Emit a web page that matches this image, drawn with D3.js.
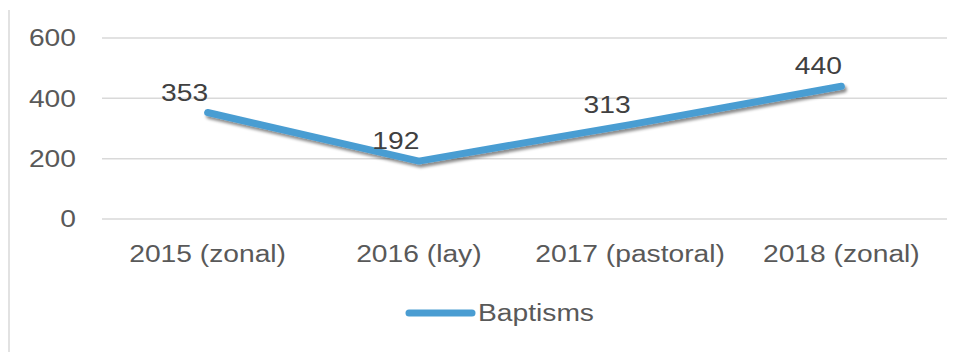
<!DOCTYPE html>
<html>
<head>
<meta charset="utf-8">
<script src="https://cdn.jsdelivr.net/npm/d3@7"></script>
<style>
  body { margin: 0; background: #fff; }
  svg { display: block; }
  text { font-family: "Liberation Sans", Arial, sans-serif; }
</style>
</head>
<body>
<script>
// chart data
var categories = ["2015 (zonal)", "2016 (lay)", "2017 (pastoral)", "2018 (zonal)"];
var baptisms = [353, 192, 313, 440];
var yTicks = [0, 200, 400, 600];
var seriesName = "Baptisms";

var w = 956, h = 352;
var margin = {left: 102, right: 9, top: 38, bottom: 133};
var stretch = 1.2; // the source picture is wider than its type
var fs = 23.5;

var svg = d3.select("body").append("svg")
  .attr("width", w)
  .attr("height", h);

var defs = svg.append("defs");
var f = defs.append("filter").attr("id", "shadow")
  .attr("x", "-10%").attr("y", "-50%").attr("width", "120%").attr("height", "200%");
f.append("feDropShadow")
  .attr("dx", 2).attr("dy", 3).attr("stdDeviation", 1.6)
  .attr("flood-color", "#000").attr("flood-opacity", 0.45);

// frame line on the left
svg.append("line")
  .attr("x1", 9).attr("x2", 9)
  .attr("y1", 10).attr("y2", h)
  .attr("stroke", "#d9d9d9").attr("stroke-width", 1.5);

var x = d3.scaleBand()
  .domain(categories)
  .range([margin.left, w - margin.right]);

var y = d3.scaleLinear()
  .domain([0, 600])
  .range([h - margin.bottom, margin.top]);

function widen(sel) {
  sel.each(function() {
    var len = this.getComputedTextLength();
    d3.select(this)
      .attr("textLength", len * stretch)
      .attr("lengthAdjust", "spacingAndGlyphs");
  });
}

// gridlines
svg.append("g")
  .selectAll("line")
  .data(yTicks)
  .enter()
  .append("line")
  .attr("x1", margin.left)
  .attr("x2", w - margin.right)
  .attr("y1", function(d) { return y(d); })
  .attr("y2", function(d) { return y(d); })
  .attr("stroke", "#d9d9d9")
  .attr("stroke-width", 1.5);

// y labels
svg.append("g")
  .selectAll("text")
  .data(yTicks)
  .enter()
  .append("text")
  .attr("x", 76)
  .attr("y", function(d) { return y(d); })
  .attr("dy", "0.35em")
  .attr("text-anchor", "end")
  .attr("font-size", fs)
  .attr("fill", "#595959")
  .text(function(d) { return d; })
  .call(widen);

// x labels
svg.append("g")
  .selectAll("text")
  .data(categories)
  .enter()
  .append("text")
  .attr("x", function(d) { return x(d) + x.bandwidth() / 2; })
  .attr("y", 262)
  .attr("text-anchor", "middle")
  .attr("font-size", fs)
  .attr("fill", "#595959")
  .text(function(d) { return d; })
  .call(widen);

// the line
var line = d3.line()
  .x(function(d, i) { return x(categories[i]) + x.bandwidth() / 2; })
  .y(function(d) { return y(d); });

svg.append("path")
  .datum(baptisms)
  .attr("d", line)
  .attr("fill", "none")
  .attr("stroke", "#4a9dd2")
  .attr("stroke-width", 7)
  .attr("stroke-linecap", "round")
  .attr("stroke-linejoin", "round")
  .attr("filter", "url(#shadow)");

// data labels
svg.append("g")
  .selectAll("text")
  .data(baptisms)
  .enter()
  .append("text")
  .attr("x", function(d, i) { return x(categories[i]) + x.bandwidth() / 2 - 23; })
  .attr("y", function(d) { return y(d) - 12; })
  .attr("text-anchor", "middle")
  .attr("font-size", fs)
  .attr("fill", "#404040")
  .text(function(d) { return d; })
  .call(widen);

// legend
var lg = svg.append("g");
lg.append("line")
  .attr("x1", 409).attr("x2", 472)
  .attr("y1", 313).attr("y2", 313)
  .attr("stroke", "#4a9dd2")
  .attr("stroke-width", 7)
  .attr("stroke-linecap", "round");
lg.append("text")
  .attr("x", 478)
  .attr("y", 313)
  .attr("dy", "0.35em")
  .attr("font-size", fs)
  .attr("fill", "#595959")
  .text(seriesName)
  .call(widen);
</script>
</body>
</html>
